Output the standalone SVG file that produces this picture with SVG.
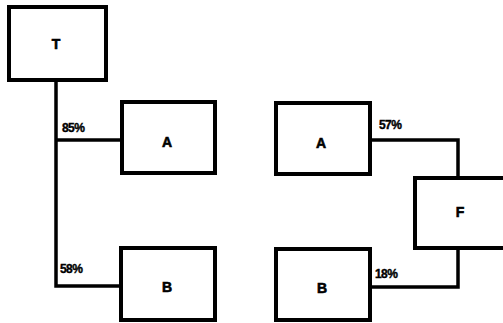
<svg xmlns="http://www.w3.org/2000/svg" width="503" height="323" viewBox="0 0 503 323">
<style>
.box{fill:#fff;stroke:#000;stroke-width:4}
.ln{fill:none;stroke:#000;stroke-width:3.5}
.lbl{font-family:"Liberation Sans",Arial,sans-serif;font-weight:bold;font-size:14px;fill:#000;stroke:#000;stroke-width:0.6;text-anchor:middle;dominant-baseline:central}
.pct{font-family:"Liberation Sans",Arial,sans-serif;font-weight:bold;font-size:12px;fill:#000;stroke:#000;stroke-width:0.4;letter-spacing:-0.6px}
</style>
<rect width="503" height="323" fill="#fff"/>
<g id="connectors">
<path class="ln" d="M56 80 V286 H121"/>
<path class="ln" d="M56 140 H122"/>
<path class="ln" d="M370 140 H458 V178"/>
<path class="ln" d="M458 248 V287 H370"/>
<text class="pct" x="62" y="132">85%</text>
<text class="pct" x="60" y="273">58%</text>
<text class="pct" x="379" y="129">57%</text>
<text class="pct" x="375" y="278">18%</text>
</g>
<g id="T"><rect class="box" x="9" y="7" width="97" height="73"/><text class="lbl" x="56" y="44">T</text></g>
<g id="A1"><rect class="box" x="122" y="102" width="93" height="71"/><text class="lbl" x="167" y="142">A</text></g>
<g id="B1"><rect class="box" x="121" y="248" width="94" height="72"/><text class="lbl" x="167" y="287">B</text></g>
<g id="A2"><rect class="box" x="276" y="103" width="94" height="71"/><text class="lbl" x="321" y="143">A</text></g>
<g id="F"><rect class="box" x="415" y="178" width="100" height="70"/><text class="lbl" x="460" y="212">F</text></g>
<g id="B2"><rect class="box" x="276" y="249" width="94" height="71"/><text class="lbl" x="322" y="288">B</text></g>
</svg>
